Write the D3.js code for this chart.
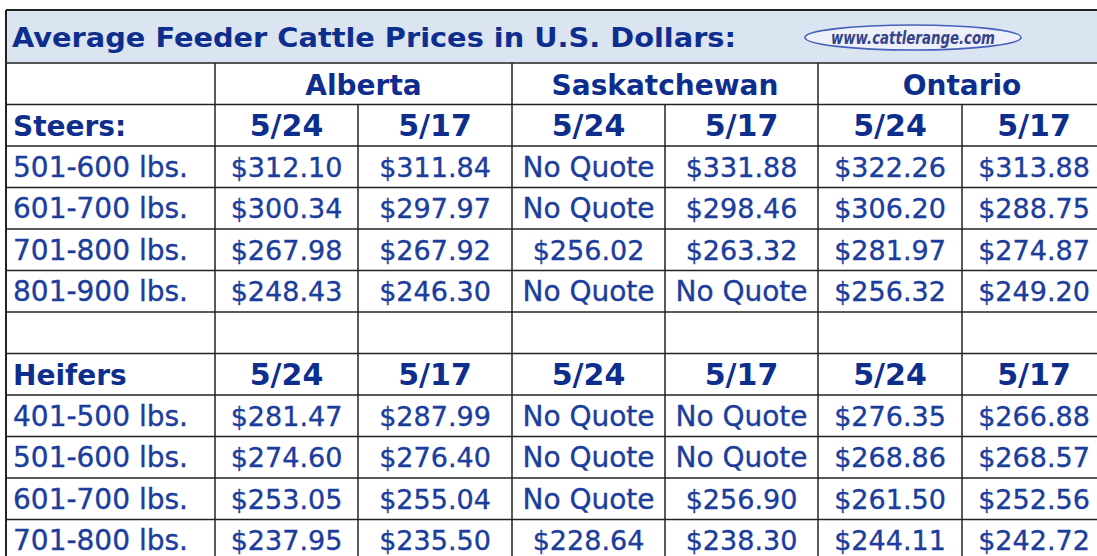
<!DOCTYPE html>
<html>
<head>
<meta charset="utf-8">
<script src="https://cdn.jsdelivr.net/npm/d3@7"></script>
<style>
  body { margin: 0; background: #fff; }
  svg { display: block; }
  text { font-family: "DejaVu Sans", Verdana, sans-serif; }
</style>
</head>
<body>
<div id="chart"></div>
<script>
// Table data
const title = "Average Feeder Cattle Prices in U.S. Dollars:";
const logoText = "www.cattlerange.com";
const regions = ["Alberta", "Saskatchewan", "Ontario"];
const dates = ["5/24", "5/17"];

const steerWeights = ["501-600 lbs.", "601-700 lbs.", "701-800 lbs.", "801-900 lbs."];
const steerPrices = [
    [312.10, 311.84, null, 331.88, 322.26, 313.88],
    [300.34, 297.97, null, 298.46, 306.20, 288.75],
    [267.98, 267.92, 256.02, 263.32, 281.97, 274.87],
    [248.43, 246.30, null, null, 256.32, 249.20]
];

const heiferWeights = ["401-500 lbs.", "501-600 lbs.", "601-700 lbs.", "701-800 lbs."];
const heiferPrices = [
    [281.47, 287.99, null, null, 276.35, 266.88],
    [274.60, 276.40, null, null, 268.86, 268.57],
    [253.05, 255.04, null, 256.90, 261.50, 252.56],
    [237.95, 235.50, 228.64, 238.30, 244.11, 242.72]
];

const width = 1097, height = 556;
const textColor = "#1b3d9c";
const boldColor = "#0e2e8e";
const lineColor = "#222";

const svg = d3.select("#chart").append("svg")
    .attr("width", width)
    .attr("height", height);

// column edges (piecewise) and row edges
const x = d3.scaleLinear()
    .domain([0, 1, 2, 3, 4, 5, 6, 7])
    .range([6, 215, 358, 512, 665, 818, 962, 1106]);
const y = d3.scaleLinear().domain([0, 12]).range([63, 561]);
const titleTop = 10;

// build rows
const rows = [];
rows.push({ type: "region" });
rows.push({ type: "dates", label: "Steers:" });
steerWeights.forEach((w, i) => rows.push({ type: "data", label: w, values: steerPrices[i] }));
rows.push({ type: "blank" });
rows.push({ type: "dates", label: "Heifers" });
heiferWeights.forEach((w, i) => rows.push({ type: "data", label: w, values: heiferPrices[i] }));

const fmt = d3.format("$.2f");

// title row background
svg.append("rect")
    .attr("x", x(0)).attr("y", titleTop)
    .attr("width", x(7) - x(0)).attr("height", y(0) - titleTop)
    .attr("fill", "#dbe5f1");

svg.append("text")
    .attr("x", 12).attr("y", 47)
    .attr("font-size", 26).attr("font-weight", "bold")
    .attr("textLength", 724).attr("lengthAdjust", "spacingAndGlyphs")
    .attr("fill", boldColor)
    .text(title);

// logo
const logo = svg.append("g").attr("transform", "translate(913,37.5)");
logo.append("ellipse")
    .attr("rx", 108).attr("ry", 12.5)
    .attr("fill", "#eef0f9")
    .attr("stroke", "#4560b8").attr("stroke-width", 1.6);
logo.append("text")
    .attr("text-anchor", "middle").attr("y", 6)
    .attr("font-size", 18).attr("font-weight", "bold").attr("font-style", "italic")
    .attr("textLength", 164).attr("lengthAdjust", "spacingAndGlyphs")
    .attr("fill", "#34438a")
    .text(logoText);

// grid lines
const grid = svg.append("g").attr("stroke", lineColor).attr("stroke-width", 1.5);

// horizontal lines
d3.range(0, 13).forEach(i => {
    grid.append("line")
        .attr("x1", x(0)).attr("x2", x(7))
        .attr("y1", y(i)).attr("y2", y(i));
});
grid.append("line")
    .attr("x1", x(0)).attr("x2", x(7))
    .attr("y1", titleTop).attr("y2", titleTop)
    .attr("stroke-width", 2);
// left border
grid.append("line")
    .attr("x1", x(0)).attr("x2", x(0))
    .attr("y1", titleTop).attr("y2", height)
    .attr("stroke-width", 2);

// vertical lines
d3.range(1, 7).forEach(c => {
    const merged = c % 2 === 0; // inside a region in header row
    grid.append("line")
        .attr("x1", x(c)).attr("x2", x(c))
        .attr("y1", merged ? y(1) : y(0)).attr("y2", height);
});

// text cells
const rowG = svg.selectAll("g.row")
    .data(rows)
    .join("g")
    .attr("class", "row")
    .attr("transform", (d, i) => `translate(0,${(y(i) + y(i + 1)) / 2})`);

rowG.filter(d => d.type === "region")
    .selectAll("text")
    .data(regions)
    .join("text")
    .attr("x", (d, i) => (x(1 + i * 2) + x(3 + i * 2)) / 2)
    .attr("y", 11)
    .attr("text-anchor", "middle")
    .attr("font-size", 28).attr("font-weight", "bold")
    .attr("fill", boldColor)
    .text(d => d);

rowG.filter(d => d.type === "dates")
    .each(function(r) {
        const g = d3.select(this);
        g.append("text")
            .attr("x", 13).attr("y", 11)
            .attr("font-size", 28).attr("font-weight", "bold")
            .attr("fill", boldColor)
            .text(r.label);
        g.selectAll("text.date")
            .data(d3.range(6).map(i => dates[i % 2]))
            .join("text")
            .attr("class", "date")
            .attr("x", (d, i) => (x(i + 1) + x(i + 2)) / 2)
            .attr("y", 11)
            .attr("text-anchor", "middle")
            .attr("font-size", 30).attr("font-weight", "bold")
            .attr("fill", boldColor)
            .text(d => d);
    });

rowG.filter(d => d.type === "data")
    .each(function(r) {
        const g = d3.select(this);
        g.append("text")
            .attr("x", 13).attr("y", 10)
            .attr("font-size", 28)
            .attr("fill", textColor)
            .attr("stroke", textColor).attr("stroke-width", 0.35)
            .text(r.label);
        g.selectAll("text.val")
            .data(r.values)
            .join("text")
            .attr("class", "val")
            .attr("x", (d, i) => (x(i + 1) + x(i + 2)) / 2)
            .attr("y", 10)
            .attr("text-anchor", "middle")
            .attr("font-size", d => d == null ? 28 : 27)
            .attr("fill", textColor)
            .attr("stroke", textColor).attr("stroke-width", 0.35)
            .text(d => d == null ? "No Quote" : fmt(d));
    });
</script>
</body>
</html>
